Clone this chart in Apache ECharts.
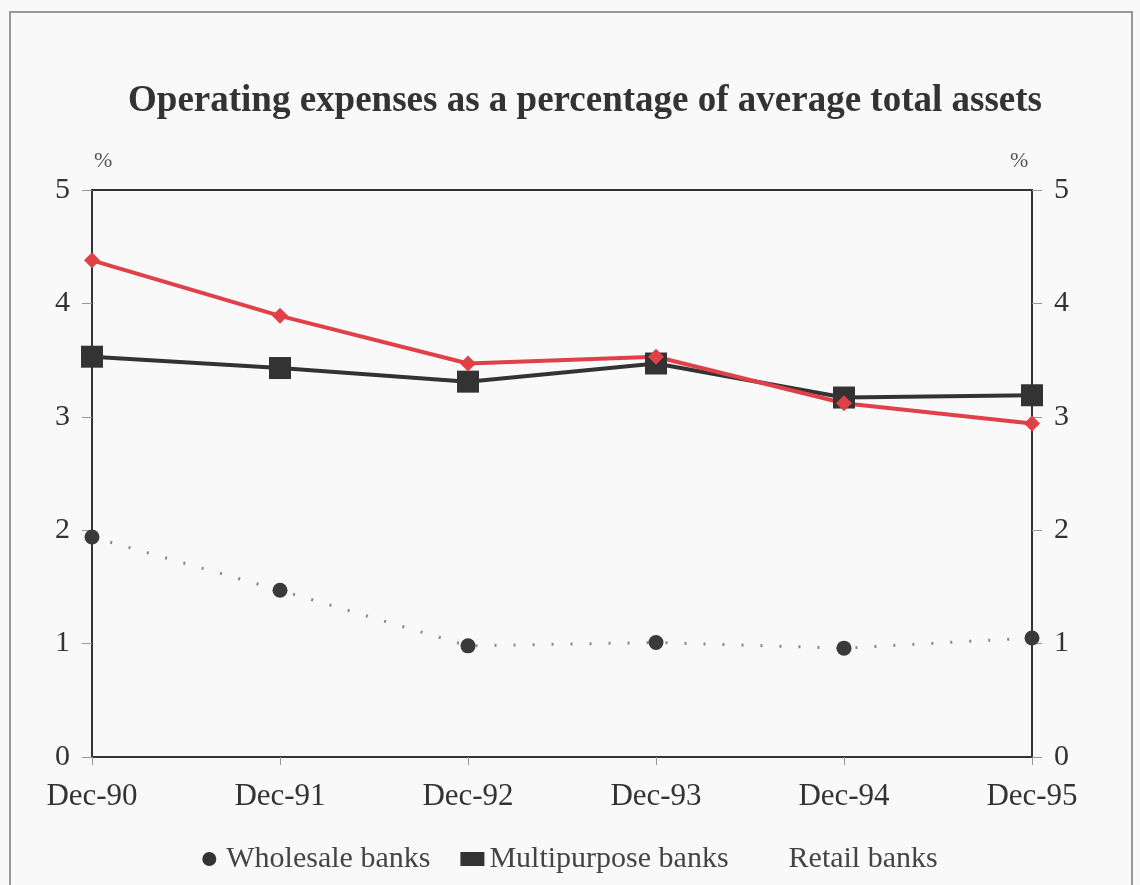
<!DOCTYPE html>
<html><head><meta charset="utf-8">
<script src="https://cdn.jsdelivr.net/npm/echarts@6/dist/echarts.min.js"></script>
<style>html,body{margin:0;padding:0;background:#f9f9f9}#c{width:1140px;height:885px}</style>
</head><body><div id="c"></div>
<script>
const categories = ['Dec-90','Dec-91','Dec-92','Dec-93','Dec-94','Dec-95'];
const wholesale = [1.94, 1.47, 0.98, 1.01, 0.96, 1.05];
const multipurpose = [3.53, 3.43, 3.31, 3.47, 3.17, 3.19];
const retail = [4.38, 3.89, 3.47, 3.53, 3.12, 2.94];
const yTicks = [0,1,2,3,4,5];

const font = '"Liberation Serif", "Times New Roman", serif';
const chart = echarts.init(document.getElementById('c'));
const yAxisBase = {
  type:'value', min:0, max:5, interval:1,
  axisLine:{show:true, lineStyle:{color:'#333', width:2}},
  axisTick:{show:true, length:10, lineStyle:{color:'#999', width:1}},
  splitLine:{show:false},
  axisLabel:{color:'#333', fontFamily:font, fontSize:30, margin:22,
    formatter: v => yTicks.includes(v) ? String(v) : ''}
};
chart.setOption({
  backgroundColor:'#f9f9f9',
  animation:false,
  title:{text:'Operating expenses as a percentage of average total assets', left:580, textAlign:'center', top:78,
    textStyle:{fontFamily:font, fontSize:37, fontWeight:'bold', color:'#333'}},
  grid:{left:92, right:108, top:190, bottom:128, show:true, borderColor:'#333', borderWidth:2, backgroundColor:'transparent'},
  graphic:[
    {type:'rect', shape:{x:10, y:12, width:1122, height:880}, style:{fill:'none', stroke:'#999', lineWidth:2}, silent:true},
    {type:'text', left:94, top:150, style:{text:'%', fontFamily:font, fontSize:22, fill:'#555'}, silent:true},
    {type:'text', left:1010, top:150, style:{text:'%', fontFamily:font, fontSize:22, fill:'#555'}, silent:true}
  ],
  legend:{bottom:6, left:'center', itemGap:30, itemWidth:24, itemHeight:14,
    textStyle:{fontFamily:font, fontSize:30, color:'#444'},
    data:[
      {name:'Wholesale banks', icon:'circle', itemStyle:{color:'#333'}},
      {name:'Multipurpose banks', icon:'rect', itemStyle:{color:'#333'}},
      {name:'Retail banks', itemStyle:{opacity:0}, lineStyle:{opacity:0}}
    ]},
  xAxis:{type:'category', data:categories, boundaryGap:false,
    axisLine:{lineStyle:{color:'#333', width:2}},
    axisTick:{show:true, length:8, lineStyle:{color:'#999'}},
    axisLabel:{color:'#333', fontFamily:font, fontSize:31, margin:24}},
  yAxis:[Object.assign({}, yAxisBase, {position:'left'}), Object.assign({}, yAxisBase, {position:'right'})],
  series:[
    {name:'Wholesale banks', type:'line', data:wholesale, symbol:'circle', symbolSize:15,
      itemStyle:{color:'#3a3a3a'}, lineStyle:{color:'#888', width:3, type:[2,17]}},
    {name:'Multipurpose banks', type:'line', data:multipurpose, symbol:'rect', symbolSize:22,
      itemStyle:{color:'#333'}, lineStyle:{color:'#333', width:4}},
    {name:'Retail banks', type:'line', data:retail, symbol:'diamond', symbolSize:16,
      itemStyle:{color:'#e04048'}, lineStyle:{color:'#e04048', width:4}}
  ]
});
</script></body></html>
